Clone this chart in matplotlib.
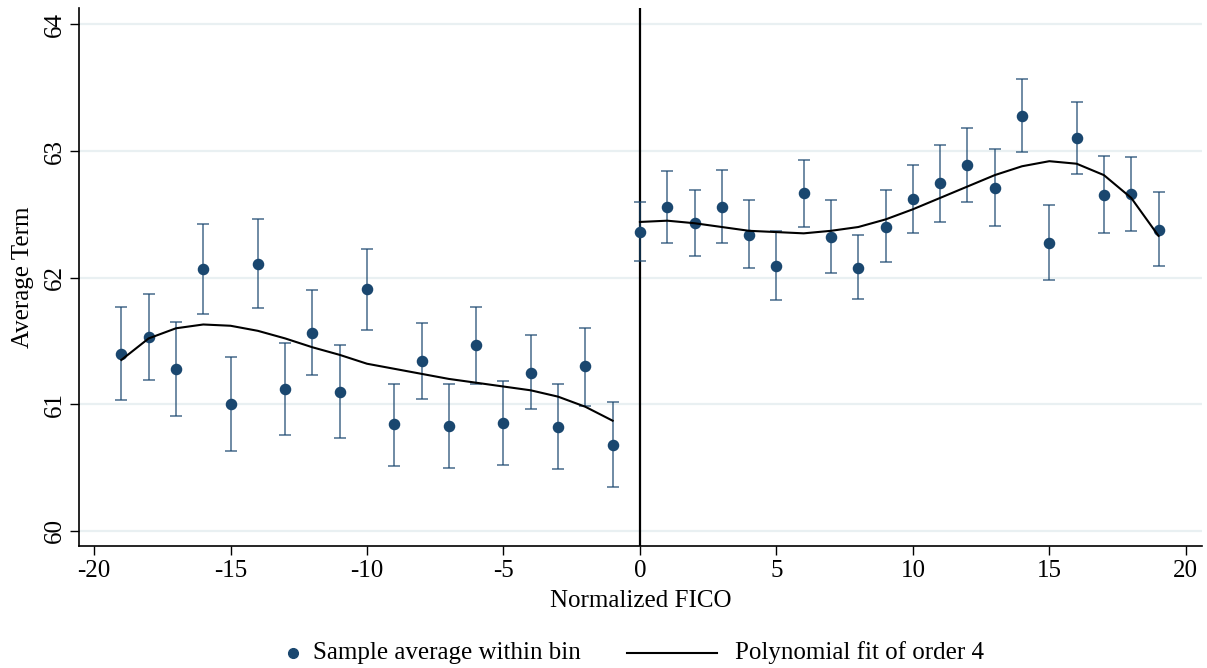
import matplotlib
matplotlib.use("Agg")
import matplotlib.pyplot as plt
from matplotlib.lines import Line2D

plt.rcParams["font.family"] = ["Liberation Serif", "DejaVu Serif"]

# Bin centres of normalized FICO score
bins_left = [-19, -18, -17, -16, -15, -14, -13, -12, -11, -10,
             -9, -8, -7, -6, -5, -4, -3, -2, -1]
bins_right = [0, 1, 2, 3, 4, 5, 6, 7, 8, 9,
              10, 11, 12, 13, 14, 15, 16, 17, 18, 19]

# Sample averages within bins
mean_left = [61.40, 61.53, 61.28, 62.07, 61.00, 62.11, 61.12, 61.56, 61.10, 61.91,
             60.84, 61.34, 60.83, 61.47, 60.85, 61.25, 60.82, 61.30, 60.68]
mean_right = [62.36, 62.56, 62.43, 62.56, 62.34, 62.09, 62.67, 62.32, 62.08, 62.40,
              62.62, 62.75, 62.89, 62.71, 63.28, 62.27, 63.10, 62.65, 62.66, 62.38]

# Confidence interval bounds
lo_left = [61.03, 61.19, 60.91, 61.71, 60.63, 61.76, 60.76, 61.23, 60.73, 61.59,
           60.51, 61.04, 60.50, 61.16, 60.52, 60.96, 60.49, 60.99, 60.35]
hi_left = [61.77, 61.87, 61.65, 62.42, 61.37, 62.46, 61.48, 61.90, 61.47, 62.23,
           61.16, 61.64, 61.16, 61.77, 61.18, 61.55, 61.16, 61.60, 61.02]
lo_right = [62.13, 62.27, 62.17, 62.27, 62.08, 61.82, 62.40, 62.04, 61.83, 62.12,
            62.35, 62.44, 62.60, 62.41, 62.99, 61.98, 62.82, 62.35, 62.37, 62.09]
hi_right = [62.60, 62.84, 62.69, 62.85, 62.61, 62.37, 62.93, 62.61, 62.34, 62.69,
            62.89, 63.05, 63.18, 63.02, 63.57, 62.57, 63.39, 62.96, 62.95, 62.68]

# Fourth-order polynomial fit evaluated at each bin
fit_left = [61.35, 61.52, 61.60, 61.63, 61.62, 61.58, 61.52, 61.45, 61.39, 61.32,
            61.28, 61.24, 61.20, 61.17, 61.14, 61.11, 61.06, 60.98, 60.87]
fit_right = [62.44, 62.45, 62.43, 62.40, 62.37, 62.36, 62.35, 62.37, 62.40, 62.46,
             62.54, 62.63, 62.72, 62.81, 62.88, 62.92, 62.90, 62.81, 62.63, 62.33]

x_ticks = [-20, -15, -10, -5, 0, 5, 10, 15, 20]
y_ticks = [60, 61, 62, 63, 64]

navy = "#1a476f"
grid_col = "#e9f0f2"
fs = 18

W, H = 1207, 668
fig = plt.figure(figsize=(W / 100, H / 100), dpi=100)
ax = fig.add_axes([0.0655, 0.1826, 0.9305, 0.8054])

for yt in y_ticks:
    ax.axhline(yt, color=grid_col, lw=1.6, zorder=0)

for xs, m, lo, hi in [(bins_left, mean_left, lo_left, hi_left),
                      (bins_right, mean_right, lo_right, hi_right)]:
    yerr = [[mi - l for mi, l in zip(m, lo)], [h - mi for mi, h in zip(m, hi)]]
    ax.errorbar(xs, m, yerr=yerr, fmt="none", ecolor=navy, elinewidth=1.1,
                capsize=4.6, capthick=1.1, alpha=0.8, zorder=2)
    ax.plot(xs, m, "o", color=navy, ms=7.3, zorder=3)

ax.plot(bins_left, fit_left, color="black", lw=1.5, zorder=4)
ax.plot(bins_right, fit_right, color="black", lw=1.5, zorder=4)

ax.axvline(0, color="black", lw=1.6, zorder=1)

ax.set_xlim(-20.55, 20.6)
ax.set_ylim(59.88, 64.13)
ax.set_xticks(x_ticks)
ax.set_yticks(y_ticks)
ax.set_xticklabels([str(v) for v in x_ticks], fontsize=fs)
ax.set_yticklabels([str(v) for v in y_ticks], fontsize=fs, rotation=90, va="center")
ax.tick_params(axis="both", length=6.8, width=1, color="black")
ax.tick_params(axis="x", pad=3)
ax.tick_params(axis="y", pad=3)

for side in ["top", "right"]:
    ax.spines[side].set_visible(False)
for side in ["left", "bottom"]:
    ax.spines[side].set_linewidth(1.2)

ax.set_xlabel("Normalized FICO", fontsize=fs, labelpad=6)
ax.set_ylabel("Average Term", fontsize=fs, labelpad=7)

# Legend row beneath the axes, laid out in figure pixels
leg_y = 1 - 653 / H
fig.add_artist(Line2D([293 / W], [leg_y], marker="o", color=navy, ms=7,
                      ls="none", transform=fig.transFigure))
fig.text(313 / W, leg_y, "Sample average within bin", fontsize=fs,
         va="center", ha="left")
fig.add_artist(Line2D([627 / W, 717 / W], [leg_y, leg_y], color="black", lw=1.5,
                      transform=fig.transFigure))
fig.text(735 / W, leg_y, "Polynomial fit of order 4", fontsize=fs,
         va="center", ha="left")

fig.savefig("out.png", dpi=100)
